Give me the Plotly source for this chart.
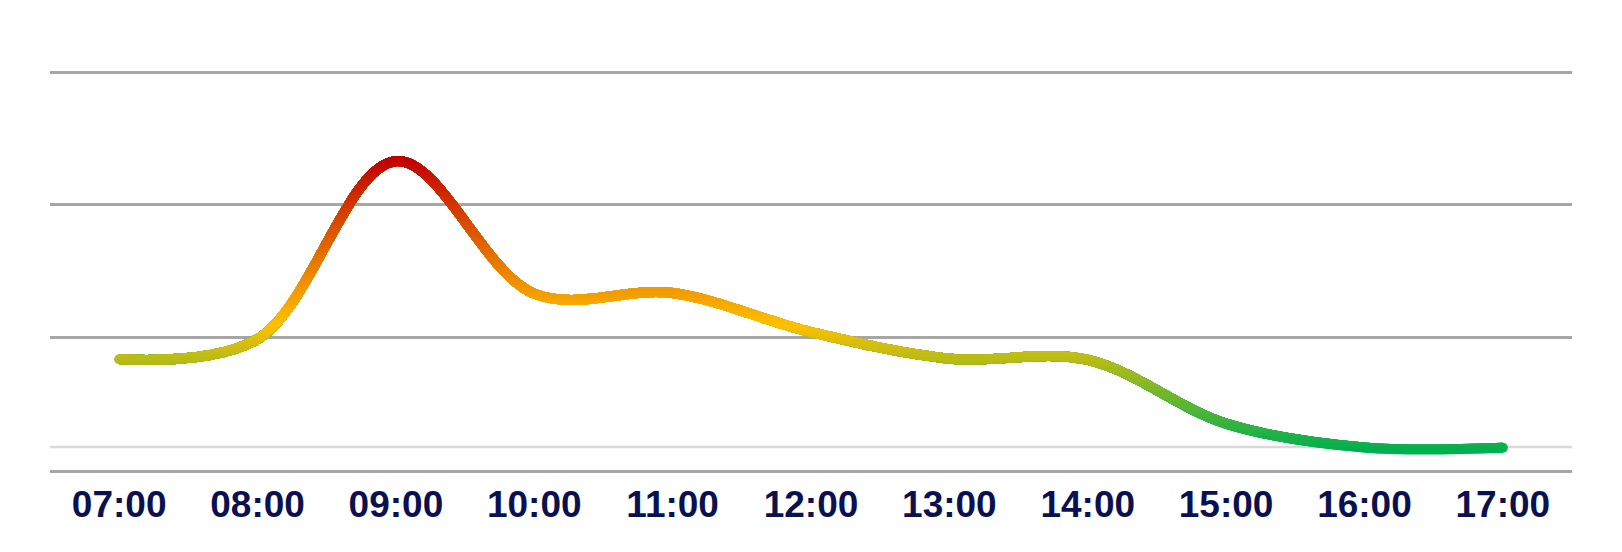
import math
import plotly.graph_objects as go
from plotly.colors import sample_colorscale

# ---- data ----
hours = ["07:00", "08:00", "09:00", "10:00", "11:00", "12:00",
         "13:00", "14:00", "15:00", "16:00", "17:00"]
load = [8.35, 9.87, 23.3, 13.3, 13.35, 10.4, 8.4, 8.3, 3.5, 1.7, 1.68]
grid_values = [10, 20, 30]
baseline_value = 1.73
y_top = 30.1

# colour gradient by value (green -> yellow -> red)
stop_values = [1.5, 11.0, 23.5]
stop_colors = ["#00b050", "#ffc000", "#c00000"]

# ---- styling ----
LINE_W = 10
GRID_COLOR = "#a6a6a6"
LIGHT_COLOR = "#d9d9d9"
LABEL_COLOR = "#0b1150"

cmin, cmax = stop_values[0], stop_values[-1]
colorscale = [[(v - cmin) / (cmax - cmin), c] for v, c in zip(stop_values, stop_colors)]


def color_at(v):
    t = min(1.0, max(0.0, (v - cmin) / (cmax - cmin)))
    return sample_colorscale(colorscale, [t])[0]


fig = go.Figure()

# end caps (round line ends) on main axis
fig.add_trace(go.Scatter(
    x=[hours[0], hours[-1]], y=[load[0], load[-1]], mode="markers",
    marker=dict(size=LINE_W, color=[load[0], load[-1]], colorscale=colorscale,
                cmin=cmin, cmax=cmax, line=dict(width=0)),
    hoverinfo="skip", showlegend=False, xaxis="x", yaxis="y"))

# gradient line: same spline clipped into stacked value bands
step = 0.25
lo = math.floor((min(load) - 0.6) / step) * step
hi = max(load) + 0.6
bottoms = []
b = lo
while b < hi:
    bottoms.append(round(b, 4))
    b += step

layout_axes = {}
for i, bot in enumerate(bottoms):
    n = i + 2
    fig.add_trace(go.Scatter(
        x=hours, y=load, mode="lines",
        line=dict(shape="spline", smoothing=1, width=LINE_W, color=color_at(bot + step / 2)),
        hoverinfo="skip", showlegend=False, xaxis="x", yaxis=f"y{n}"))
    layout_axes[f"yaxis{n}"] = dict(domain=[bot / y_top, 1], range=[bot, y_top],
                                    visible=False, anchor="x", fixedrange=True)

fig.update_layout(
    width=1622, height=552,
    margin=dict(l=50, r=50, t=71, b=82),
    paper_bgcolor="white", plot_bgcolor="rgba(0,0,0,0)",
    showlegend=False,
    xaxis=dict(type="category", categoryorder="array", categoryarray=hours,
               range=[-0.5, len(hours) - 0.5], showgrid=False,
               showline=True, linecolor=GRID_COLOR, linewidth=2.5, zeroline=False,
               ticks="", anchor="y",
               tickfont=dict(family="Liberation Sans", size=37, color=LABEL_COLOR, weight="bold")),
    yaxis=dict(range=[0, y_top], tickvals=grid_values, showgrid=True, gridcolor=GRID_COLOR,
               gridwidth=2.5, showticklabels=False, zeroline=False, showline=False,
               domain=[0, 1], anchor="x", fixedrange=True),
    shapes=[dict(type="line", xref="paper", x0=0, x1=1, yref="y",
                 y0=baseline_value, y1=baseline_value,
                 line=dict(color=LIGHT_COLOR, width=2.5), layer="below")],
    **layout_axes,
)

fig.write_html("out.html", config={"displayModeBar": False})

with open("out.html", "r", encoding="utf-8") as f:
    html = f.read()
html = html.replace("<head>", "<head><style>html,body{margin:0;padding:0;overflow:hidden}</style>", 1)
with open("out.html", "w", encoding="utf-8") as f:
    f.write(html)
